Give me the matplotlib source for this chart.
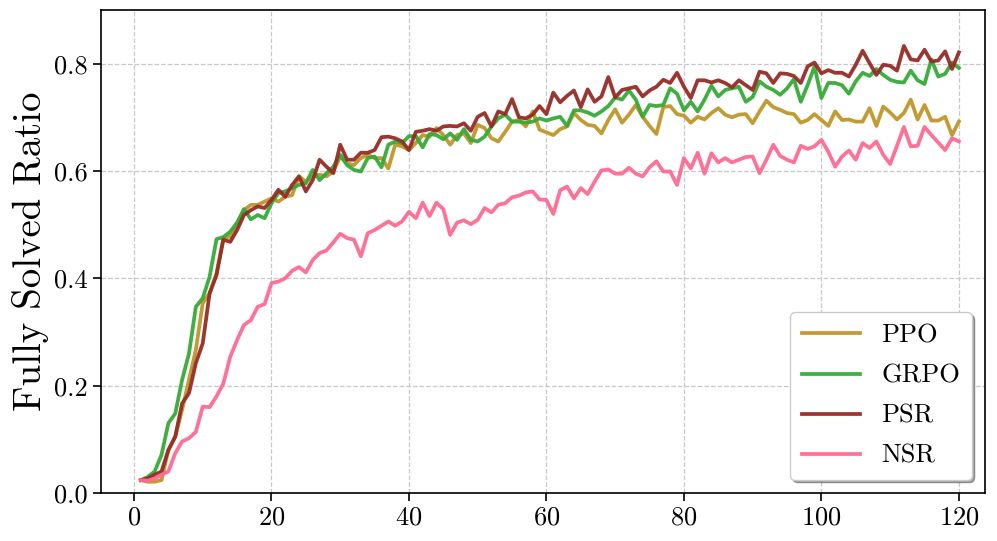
import matplotlib
matplotlib.use("Agg")
import matplotlib.pyplot as plt
import numpy as np

plt.rcParams["font.family"] = "serif"
plt.rcParams["font.serif"] = ["cmr10", "DejaVu Serif"]
plt.rcParams["mathtext.fontset"] = "cm"
plt.rcParams["axes.formatter.use_mathtext"] = True

steps = np.arange(1, 121)

ppo = [
    0.024, 0.021, 0.021, 0.024, 0.080, 0.105, 0.155, 0.211, 0.267, 0.354,
    0.372, 0.409, 0.475, 0.478, 0.500, 0.527, 0.537, 0.537, 0.543, 0.549,
    0.543, 0.552, 0.555, 0.590, 0.580, 0.590, 0.593, 0.590, 0.599, 0.627,
    0.614, 0.611, 0.624, 0.630, 0.624, 0.624, 0.605, 0.649, 0.646, 0.639,
    0.652, 0.667, 0.664, 0.680, 0.667, 0.649, 0.667, 0.670, 0.652, 0.686,
    0.680, 0.661, 0.655, 0.673, 0.692, 0.695, 0.683, 0.711, 0.677, 0.672,
    0.667, 0.678, 0.683, 0.708, 0.695, 0.686, 0.684, 0.670, 0.695, 0.715,
    0.690, 0.705, 0.723, 0.701, 0.684, 0.669, 0.719, 0.721, 0.706, 0.703,
    0.690, 0.701, 0.696, 0.708, 0.717, 0.705, 0.700, 0.705, 0.706, 0.689,
    0.711, 0.731, 0.719, 0.714, 0.708, 0.706, 0.690, 0.695, 0.706, 0.695,
    0.684, 0.711, 0.695, 0.696, 0.692, 0.692, 0.717, 0.684, 0.720, 0.709,
    0.696, 0.708, 0.733, 0.696, 0.723, 0.694, 0.694, 0.701, 0.667, 0.692,
]

grpo = [
    0.024, 0.030, 0.040, 0.071, 0.130, 0.148, 0.211, 0.260, 0.347, 0.363,
    0.403, 0.473, 0.477, 0.487, 0.504, 0.529, 0.510, 0.518, 0.512, 0.540,
    0.559, 0.562, 0.568, 0.574, 0.577, 0.602, 0.583, 0.596, 0.608, 0.630,
    0.611, 0.602, 0.599, 0.624, 0.627, 0.607, 0.649, 0.655, 0.652, 0.665,
    0.665, 0.644, 0.669, 0.667, 0.659, 0.670, 0.658, 0.678, 0.658, 0.655,
    0.664, 0.683, 0.698, 0.705, 0.692, 0.692, 0.690, 0.692, 0.698, 0.694,
    0.698, 0.701, 0.684, 0.713, 0.713, 0.709, 0.703, 0.711, 0.721, 0.737,
    0.733, 0.750, 0.733, 0.701, 0.723, 0.721, 0.723, 0.754, 0.744, 0.713,
    0.729, 0.711, 0.733, 0.759, 0.739, 0.751, 0.754, 0.757, 0.729, 0.738,
    0.767, 0.757, 0.751, 0.742, 0.754, 0.771, 0.729, 0.760, 0.795, 0.736,
    0.764, 0.764, 0.760, 0.744, 0.767, 0.783, 0.777, 0.790, 0.779, 0.770,
    0.766, 0.765, 0.787, 0.769, 0.762, 0.808, 0.776, 0.781, 0.802, 0.792,
]

psr = [
    0.024, 0.027, 0.034, 0.040, 0.080, 0.105, 0.167, 0.186, 0.242, 0.279,
    0.372, 0.406, 0.472, 0.468, 0.490, 0.518, 0.527, 0.534, 0.531, 0.546,
    0.565, 0.552, 0.574, 0.590, 0.562, 0.583, 0.621, 0.608, 0.596, 0.649,
    0.621, 0.621, 0.634, 0.634, 0.639, 0.663, 0.664, 0.661, 0.655, 0.639,
    0.673, 0.675, 0.678, 0.675, 0.683, 0.684, 0.683, 0.689, 0.675, 0.701,
    0.708, 0.683, 0.711, 0.706, 0.734, 0.700, 0.698, 0.705, 0.721, 0.706,
    0.746, 0.728, 0.740, 0.750, 0.719, 0.752, 0.729, 0.739, 0.775, 0.737,
    0.751, 0.754, 0.757, 0.739, 0.750, 0.757, 0.770, 0.764, 0.783, 0.757,
    0.736, 0.769, 0.769, 0.765, 0.769, 0.764, 0.756, 0.769, 0.760, 0.751,
    0.785, 0.782, 0.764, 0.782, 0.781, 0.777, 0.764, 0.795, 0.802, 0.782,
    0.788, 0.783, 0.783, 0.776, 0.798, 0.824, 0.801, 0.779, 0.798, 0.796,
    0.787, 0.833, 0.808, 0.806, 0.826, 0.804, 0.806, 0.823, 0.790, 0.821,
]

nsr = [
    0.024, 0.023, 0.027, 0.034, 0.040, 0.074, 0.096, 0.102, 0.114, 0.161,
    0.160, 0.180, 0.204, 0.254, 0.285, 0.313, 0.322, 0.347, 0.352, 0.391,
    0.394, 0.400, 0.414, 0.421, 0.411, 0.434, 0.447, 0.452, 0.467, 0.483,
    0.475, 0.472, 0.441, 0.484, 0.490, 0.498, 0.506, 0.498, 0.506, 0.524,
    0.512, 0.541, 0.516, 0.541, 0.529, 0.481, 0.504, 0.508, 0.501, 0.509,
    0.531, 0.523, 0.537, 0.540, 0.551, 0.554, 0.560, 0.562, 0.547, 0.546,
    0.520, 0.564, 0.571, 0.549, 0.568, 0.557, 0.580, 0.601, 0.603, 0.595,
    0.595, 0.606, 0.595, 0.590, 0.607, 0.618, 0.599, 0.599, 0.574, 0.624,
    0.605, 0.634, 0.595, 0.633, 0.616, 0.624, 0.616, 0.621, 0.626, 0.627,
    0.596, 0.621, 0.649, 0.628, 0.621, 0.616, 0.647, 0.641, 0.646, 0.658,
    0.636, 0.608, 0.627, 0.638, 0.621, 0.652, 0.643, 0.655, 0.630, 0.613,
    0.647, 0.682, 0.646, 0.647, 0.682, 0.667, 0.653, 0.639, 0.661, 0.655,
]

series = [
    ("PPO", ppo, "#c0962a"),
    ("GRPO", grpo, "#36aa38"),
    ("PSR", psr, "#952c26"),
    ("NSR", nsr, "#ff6a93"),
]

fig = plt.figure(figsize=(9.97, 5.41), dpi=100)
ax = fig.add_axes([101 / 997, 1 - 493 / 541, (985 - 101) / 997, (493 - 10) / 541])

for label, values, color in series:
    ax.plot(steps, values, color=color, lw=2.7, alpha=0.95, label=label)

ax.set_xlim(-4.8, 123.8)
ax.set_ylim(0, 0.9)
ax.set_xticks([0, 20, 40, 60, 80, 100, 120])
ax.set_yticks([0.0, 0.2, 0.4, 0.6, 0.8])
ax.set_yticklabels(["0.0", "0.2", "0.4", "0.6", "0.8"])
ax.tick_params(labelsize=19, length=6, width=1.2)
for sp in ax.spines.values():
    sp.set_linewidth(1.2)
ax.set_ylabel("Fully Solved Ratio", fontsize=28)
ax.grid(True, ls="--", color="#c8c8c8", lw=0.9)

leg = ax.legend(loc="lower right", fontsize=19, shadow=True, fancybox=True,
                handlelength=2.2, borderpad=0.45, labelspacing=0.62)

fig.savefig("out.png", dpi=100)
